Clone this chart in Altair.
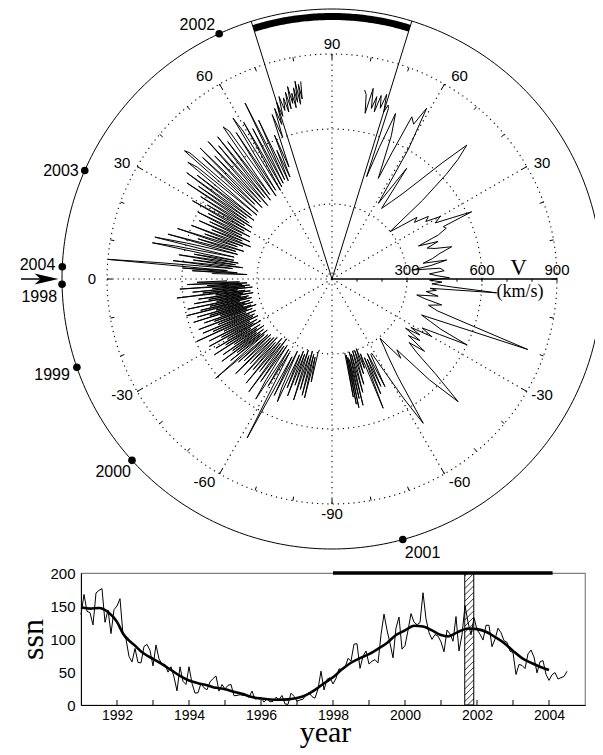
import altair as alt
import numpy as np
import pandas as pd

# ===================== DATA: polar (Ulysses) panel =====================
ORBIT_YEARS = ["1998", "1999", "2000", "2001", "2002", "2003", "2004"]
ORBIT_LAT = [-1.1, -19.1, -42.2, -74.8, 65.3, 23.7, 2.6]
ORBIT_SIDE = [-1, -1, -1, 1, -1, -1, -1]
WEDGE_LAT = [72.6, 72.8]          # polar pass boundaries (left, right)
SPEED_RINGS = [300, 600, 900]
SPEED_TICKS = [100, 200, 300, 400, 500, 600, 700, 800, 900]
SPEED_LABELS = [300, 600, 900]
LAT_GRID = [30, 60, -30, -60]

# segment A: 1998 -> late 2000, left side, southward
A_LAT = [-1.0, -1.4, -1.8, -2.2, -2.6, -3.0, -3.4, -3.8, -4.2, -4.6,
         -5.0, -5.4, -5.8, -6.2, -6.6, -7.0, -7.4, -7.8, -8.2, -8.6,
         -9.0, -9.4, -9.8, -10.2, -10.6, -11.0, -11.4, -11.8, -12.2, -12.6,
         -13.0, -13.4, -13.8, -14.2, -14.6, -15.0, -15.4, -15.8, -16.2, -16.6,
         -17.0, -17.4, -17.8, -18.2, -18.6, -19.0, -19.4, -19.8, -20.3, -20.8,
         -21.3, -21.8, -22.3, -22.8, -23.3, -23.8, -24.3, -24.8, -25.3, -25.8,
         -26.3, -26.8, -27.3, -27.8, -28.3, -28.8, -29.3, -29.8, -30.3, -30.8,
         -31.3, -31.8, -32.3, -32.8, -33.3, -33.8, -34.3, -34.8, -35.3, -35.8,
         -36.3, -36.8, -37.3, -37.8, -38.3, -38.8, -39.3, -40.0, -40.5, -41.0,
         -41.6, -42.2, -43.0, -43.8, -44.5, -45.2, -46.0, -46.8, -47.5, -48.2,
         -49.0, -49.8, -50.5, -51.2, -52.0, -52.8, -53.6, -54.4, -55.2, -56.0,
         -56.8, -57.6, -58.4, -59.2, -60.0, -61.9, -62.8, -63.6, -64.4, -65.2,
         -66.0, -66.8, -67.6, -68.4, -69.2, -70.0, -70.8, -71.6, -72.4, -73.2,
         -74.0, -74.8, -75.6, -76.4, -77.0, -77.8, -78.6, -79.3, -80.0]
A_V = [420, 540, 370, 580, 340, 500, 360, 610, 330, 480,
       350, 560, 320, 520, 380, 625, 350, 470, 330, 540,
       360, 500, 320, 560, 370, 470, 340, 590, 350, 500,
       330, 540, 380, 600, 340, 480, 360, 560, 330, 510,
       370, 580, 340, 470, 320, 540, 360, 500, 340, 570,
       370, 490, 330, 560, 360, 520, 340, 596, 350, 480,
       330, 550, 370, 500, 340, 560, 360, 480, 330, 540,
       380, 500, 340, 560, 360, 470, 330, 530, 370, 490,
       340, 550, 360, 480, 330, 520, 350, 470, 612, 340,
       500, 330, 480, 340, 540, 330, 470, 320, 520, 340,
       480, 310, 540, 330, 470, 300, 560, 330, 500, 320,
       480, 569, 330, 500, 340, 721, 350, 520, 320, 480,
       537, 330, 470, 310, 500, 320, 450, 300, 508, 320,
       460, 300, 480, 310, 488, 320, 420, 300, 288]

# segment B: fast latitude scan 2000.9 -> 2001.8, right side
B_LAT = [-80.2, -79.8, -79.4, -79.0, -78.6, -78.2, -77.8, -77.2, -76.6, -76.2,
         -75.5, -74.8, -74.0, -73.2, -72.4, -71.6, -70.8, -70.0, -69.2, -68.4,
         -67.6, -67.0, -66.2, -65.5, -64.6, -63.8, -62.8, -61.9, -60.5, -59.0,
         -57.7, -56.0, -54.0, -52.4, -51.0, -49.0, -47.5, -46.0, -44.2, -42.5,
         -41.0, -39.5, -38.0, -36.5, -35.0, -33.8, -32.5, -31.5, -30.0, -28.5,
         -27.3, -26.0, -24.8, -23.4, -21.9, -19.8, -18.2, -16.8, -15.2, -13.3,
         -12.0, -10.7, -9.2, -7.6, -6.2, -5.4, -4.8, -3.8, -2.8, -1.6,
         -0.6, 0.6, 1.8, 3.0, 4.2, 5.7, 6.4, 7.8, 9.4, 9.8,
         11.5, 13.2, 15.1, 16.5, 18.0, 19.5, 20.9, 22.5, 24.0, 25.2,
         25.7, 27.0, 28.5, 30.0, 31.5, 33.0, 34.5, 36.0, 37.5, 39.2,
         41.0, 42.5, 43.5, 44.8, 46.5, 48.5, 50.5, 52.5, 54.9, 56.0,
         57.3, 58.5, 59.5, 61.0, 62.2, 63.8, 64.6, 65.3, 67.5, 69.0,
         70.2, 71.3, 71.7, 72.1, 72.8, 73.5, 74.2, 75.0, 75.8, 76.2,
         77.0, 77.8, 78.7, 79.5, 80.2]
B_V = [300, 480, 310, 510, 320, 526, 330, 490, 300, 520,
       310, 470, 300, 440, 300, 400, 295, 380, 320, 556,
       340, 500, 350, 472, 330, 480, 340, 337, 420, 560,
       683, 470, 380, 340, 305, 420, 384, 560, 704, 560,
       450, 400, 470, 380, 430, 354, 417, 370, 460, 410,
       483, 600, 480, 430, 386, 832, 560, 440, 400, 451,
       380, 345, 430, 380, 420, 394, 661, 480, 400, 440,
       390, 470, 420, 390, 450, 434, 321, 400, 465, 370,
       410, 440, 496, 430, 400, 450, 370, 460, 500, 492,
       620, 540, 470, 500, 440, 460, 400, 420, 350, 299,
       480, 620, 694, 760, 640, 520, 440, 390, 345, 534,
       420, 355, 600, 781, 700, 723, 560, 443, 620, 709,
       560, 432, 719, 731, 700, 770, 710, 760, 690, 751,
       700, 780, 676, 750, 767]

# segment C: 2001.8 -> 2004, left side, descending from the north pole
C_LAT = [81.0, 80.6, 80.2, 79.8, 79.4, 79.0, 78.6, 78.2, 77.8, 77.4,
         77.0, 76.5, 76.0, 75.5, 75.0, 74.4, 73.8, 73.2, 72.6, 72.0,
         71.4, 70.8, 70.0, 69.0, 68.2, 67.6, 66.8, 66.0, 65.2, 64.5,
         63.7, 63.0, 62.2, 61.4, 60.6, 59.8, 59.0, 58.4, 57.6, 56.8,
         56.0, 55.2, 54.4, 53.6, 52.8, 52.0, 51.2, 50.4, 49.6, 48.8,
         48.0, 47.2, 46.4, 45.6, 44.8, 44.0, 43.2, 42.4, 41.6, 41.0,
         40.4, 39.7, 39.0, 38.3, 37.6, 36.9, 36.2, 35.5, 34.8, 34.1,
         33.5, 32.8, 32.1, 31.4, 30.7, 30.0, 29.3, 28.6, 27.9, 27.2,
         26.5, 25.8, 25.1, 24.4, 23.7, 23.0, 22.3, 21.6, 20.9, 20.2,
         19.5, 18.8, 18.1, 17.4, 16.7, 16.0, 15.3, 14.6, 13.9, 13.3,
         12.6, 11.9, 11.4, 10.8, 10.2, 9.6, 9.0, 8.4, 7.8, 7.2,
         6.6, 6.0, 5.4, 5.0, 4.6, 4.2, 3.8, 3.4, 3.0, 2.6]
C_V = [800, 730, 790, 710, 805, 720, 780, 700, 760, 720,
       790, 700, 770, 690, 750, 700, 760, 680, 740, 650,
       720, 600, 700, 480, 620, 441, 560, 430, 700, 440,
       785, 430, 680, 420, 720, 410, 690, 756, 420, 700,
       400, 720, 748, 420, 690, 400, 730, 420, 700, 390,
       740, 420, 680, 400, 744, 430, 710, 400, 760, 782,
       394, 700, 742, 410, 680, 390, 720, 420, 650, 400,
       696, 380, 620, 410, 580, 380, 640, 400, 560, 370,
       600, 400, 540, 360, 580, 390, 520, 350, 600, 380,
       540, 400, 650, 370, 560, 400, 680, 390, 600, 728,
       401, 640, 733, 400, 560, 380, 620, 390, 560, 360,
       640, 400, 700, 900, 420, 600, 380, 560, 340, 480]

# ===================== DATA: sunspot panel =====================
SSN_1991 = [136.9, 167.5, 141.9, 140.0, 121.3, 169.7, 173.7, 176.3, 125.3, 144.1, 108.2, 144.4]
SSN_1992 = [150.0, 161.1, 106.7, 99.8, 73.6, 65.2, 85.7, 64.5, 63.9, 88.7, 91.8, 82.6]
SSN_1993 = [59.3, 91.0, 69.8, 62.2, 61.3, 49.8, 57.9, 42.4, 21.4, 57.8, 35.8, 31.1]
SSN_1994 = [58.0, 32.9, 18.0, 18.5, 33.0, 26.0, 23.0, 35.0, 40.0, 44.0, 21.0, 31.0]
SSN_1995 = [24.2, 29.9, 31.1, 14.0, 14.5, 15.6, 14.5, 14.3, 11.8, 21.1, 9.0, 10.0]
SSN_1996 = [11.5, 4.4, 9.2, 4.8, 5.5, 11.8, 8.2, 14.4, 1.6, 0.9, 17.9, 13.3]
SSN_1997 = [5.7, 7.6, 8.7, 15.5, 18.5, 12.7, 10.4, 24.4, 51.3, 22.8, 39.0, 41.2]
SSN_1998 = [31.9, 40.3, 54.8, 53.4, 56.3, 70.7, 66.6, 92.2, 92.9, 55.5, 74.0, 81.9]
SSN_1999 = [62.0, 66.3, 68.8, 63.7, 106.4, 137.7, 113.5, 93.7, 71.5, 116.7, 133.2, 84.6]
SSN_2000 = [90.1, 112.9, 138.5, 125.5, 121.6, 124.9, 170.1, 130.5, 109.7, 99.4, 106.8, 104.4]
SSN_2001 = [95.6, 80.6, 113.5, 107.7, 96.6, 134.0, 81.8, 106.4, 150.7, 125.5, 106.5, 132.2]
SSN_2002 = [114.1, 107.4, 98.4, 120.7, 120.8, 88.3, 99.6, 116.4, 109.6, 97.5, 95.0, 81.6]
SSN_2003 = [79.5, 46.2, 61.5, 60.0, 55.2, 77.4, 83.3, 72.7, 48.7, 65.5, 67.3, 46.5]
SSN_2004 = [37.3, 45.8, 49.1, 39.3, 41.5, 43.2, 51.1]

SMOOTH_T = [1991.00, 1991.25, 1991.50, 1991.75, 1992.00, 1992.17, 1992.33, 1992.50, 1992.67, 1992.83,
            1993.00, 1993.25, 1993.50, 1993.75, 1994.00, 1994.25, 1994.50, 1994.75, 1995.00, 1995.25,
            1995.50, 1995.75, 1996.00, 1996.25, 1996.50, 1996.75, 1997.00, 1997.25, 1997.50, 1997.75,
            1998.00, 1998.25, 1998.50, 1998.75, 1999.00, 1999.25, 1999.50, 1999.75, 2000.00, 2000.25,
            2000.50, 2000.75, 2001.00, 2001.20, 2001.45, 2001.75, 2002.00, 2002.25, 2002.50, 2002.75,
            2003.00, 2003.25, 2003.50, 2003.75, 2004.00]
SMOOTH_V = [148, 146, 147, 141, 126, 108, 98, 90, 81, 75,
            70, 62, 53, 44, 37, 33, 30, 26, 24, 20,
            16.5, 12, 9.8, 8.4, 8.0, 8.5, 10.5, 15, 23, 33,
            42, 54, 64, 71, 77, 85, 94, 106, 113, 120,
            119, 113, 106, 104, 110, 116, 115, 111, 103, 94,
            82, 71, 64, 58, 53]

ORBIT_SPAN = [1998.0, 2004.1]
POLAR_PASS = [2001.66, 2001.91]
YEAR_TICKS = list(range(1992, 2005))
YEAR_LABELS = [1992, 1994, 1996, 1998, 2000, 2002, 2004]
SSN_LABELS = [0, 50, 100, 150, 200]

# ===================== styles / geometry constants =====================
OUTER_R = 1080
BAND_R = 1050
LABEL_R = 960
SANS = "Liberation Sans"
SERIF = "Liberation Serif"
YEAR_LABEL_STYLE = {
    "1998": ("right", -5, 13), "1999": ("right", -7, 8), "2000": ("right", -1, 12),
    "2001": ("left", 2, 13), "2002": ("right", -4, -9), "2003": ("right", -6, 1),
    "2004": ("right", -7, -2),
}

XS = alt.Scale(domain=[-1296, 1052], nice=False, zero=False)
YS = alt.Scale(domain=[-1144, 1084], nice=False, zero=False)


def PX(f):
    return alt.X(f + ":Q", scale=XS, axis=None)


def PY(f):
    return alt.Y(f + ":Q", scale=YS, axis=None)


def pol(side, lat, r):
    a = np.radians(lat)
    return side * r * np.cos(a), r * np.sin(a)


# ---- rings ----
ring_rows = []
for r in SPEED_RINGS:
    for k, th in enumerate(np.arange(0, 361, 2)):
        ring_rows.append({"ring": r, "k": k, "x": r * np.cos(np.radians(th)), "y": r * np.sin(np.radians(th))})
rings = alt.Chart(pd.DataFrame(ring_rows)).mark_line(
    color="black", strokeWidth=1.1, strokeDash=[1.2, 4], strokeJoin="round"
).encode(x=PX("x"), y=PY("y"), detail="ring:N", order="k:Q")

# ---- radial dotted lines ----
rad_rows = []
for side in (-1, 1):
    for lat in LAT_GRID:
        x1, y1 = pol(side, lat, 900)
        rad_rows.append({"x0": 0.0, "y0": 0.0, "x1": x1, "y1": y1})
for side, lat in ((-1, 0), (1, 90), (1, -90)):
    x1, y1 = pol(side, lat, 900)
    rad_rows.append({"x0": 0.0, "y0": 0.0, "x1": x1, "y1": y1})
radials = alt.Chart(pd.DataFrame(rad_rows)).mark_rule(
    color="black", strokeWidth=1.1, strokeDash=[1.2, 4]
).encode(x=PX("x0"), y=PY("y0"), x2="x1:Q", y2="y1:Q")

# ---- rim ticks on the 900 ring ----
tick_rows = []
for side in (-1, 1):
    for lat in range(-90, 91, 10):
        if side == 1 and abs(lat) == 90:
            continue
        inner = 878 if lat % 30 == 0 else 884
        xa, ya = pol(side, lat, inner)
        xb, yb = pol(side, lat, 900)
        tick_rows.append({"x0": xa, "y0": ya, "x1": xb, "y1": yb})
rim_ticks = alt.Chart(pd.DataFrame(tick_rows)).mark_rule(color="black", strokeWidth=1).encode(
    x=PX("x0"), y=PY("y0"), x2="x1:Q", y2="y1:Q")

# ---- speed axis ----
vaxis = alt.Chart(pd.DataFrame({"x0": [0.0], "x1": [900.0], "y0": [0.0]})).mark_rule(
    color="black", strokeWidth=1.3).encode(x=PX("x0"), x2="x1:Q", y=PY("y0"))
vticks = alt.Chart(pd.DataFrame({"v": SPEED_TICKS})).transform_calculate(
    y0="0", y1="-11").mark_rule(color="black", strokeWidth=1).encode(
    x=PX("v"), y=PY("y0"), y2="y1:Q")
vlabels = alt.Chart(pd.DataFrame({"v": SPEED_LABELS})).transform_calculate(
    y0="0").mark_text(font=SANS, fontSize=15, baseline="middle", align="center", dy=-9, color="black").encode(
    x=PX("v"), y=PY("y0"), text="v:N")
vsym = alt.Chart(pd.DataFrame({"x": [746.0], "y": [0.0], "t": ["V"]})).mark_text(
    font=SERIF, fontSize=23, baseline="alphabetic", align="center", dy=-4, color="black").encode(
    x=PX("x"), y=PY("y"), text="t:N")
vunit = alt.Chart(pd.DataFrame({"x": [752.0], "y": [0.0], "t": ["(km/s)"]})).mark_text(
    font=SERIF, fontSize=18, baseline="middle", align="center", dy=13, color="black").encode(
    x=PX("x"), y=PY("y"), text="t:N")

# ---- latitude labels ----
lab_rows = []
for side, lat in [(-1, 90), (-1, 60), (-1, 30), (-1, 0), (-1, -30), (-1, -60), (-1, -90),
                  (1, 60), (1, 30), (1, -30), (1, -60)]:
    r = 940 if abs(lat) == 90 else LABEL_R
    a = lat if abs(lat) == 90 else lat * 0.965
    x, y = pol(side, a, r)
    lab_rows.append({"x": x, "y": y, "t": str(lat)})
lat_labels = alt.Chart(pd.DataFrame(lab_rows)).mark_text(
    font=SANS, fontSize=15, baseline="middle", align="center", color="black").encode(
    x=PX("x"), y=PY("y"), text="t:N")

# ---- outer circle, wedge and polar band ----
outer_rows = [{"k": k, "x": OUTER_R * np.cos(np.radians(th)), "y": OUTER_R * np.sin(np.radians(th))}
              for k, th in enumerate(np.arange(0, 361, 1))]
outer = alt.Chart(pd.DataFrame(outer_rows)).mark_line(
    color="black", strokeWidth=1, clip=True, strokeJoin="round").encode(
    x=PX("x"), y=PY("y"), order="k:Q")

wedge_rows = []
for side, lat in ((-1, WEDGE_LAT[0]), (1, WEDGE_LAT[1])):
    x1, y1 = pol(side, lat, OUTER_R)
    wedge_rows.append({"x0": 0.0, "y0": 0.0, "x1": x1, "y1": y1})
wedge = alt.Chart(pd.DataFrame(wedge_rows)).mark_rule(color="black", strokeWidth=1).encode(
    x=PX("x0"), y=PY("y0"), x2="x1:Q", y2="y1:Q")

band_th = np.linspace(WEDGE_LAT[1], 180 - WEDGE_LAT[0], 70)
band_rows = [{"k": k, "x": BAND_R * np.cos(np.radians(th)), "y": BAND_R * np.sin(np.radians(th))}
             for k, th in enumerate(band_th)]
band = alt.Chart(pd.DataFrame(band_rows)).mark_line(
    color="black", strokeWidth=7, strokeCap="butt", strokeJoin="round").encode(
    x=PX("x"), y=PY("y"), order="k:Q")

# ---- solar wind traces ----
assert len(A_LAT) == len(A_V) and len(B_LAT) == len(B_V) and len(C_LAT) == len(C_V)
trace_df = pd.concat([
    pd.DataFrame({"seg": "A", "i": range(len(A_LAT)), "lat": A_LAT, "v": A_V, "side": -1}),
    pd.DataFrame({"seg": "B", "i": range(len(B_LAT)), "lat": B_LAT, "v": B_V, "side": 1}),
    pd.DataFrame({"seg": "C", "i": range(len(C_LAT)), "lat": C_LAT, "v": C_V, "side": -1}),
], ignore_index=True)
traces = alt.Chart(trace_df).transform_calculate(
    x="datum.side*datum.v*cos(datum.lat*PI/180)",
    y="datum.v*sin(datum.lat*PI/180)",
).mark_line(color="black", strokeWidth=1.0, strokeJoin="round").encode(
    x=PX("x"), y=PY("y"), detail="seg:N", order="i:Q")

# ---- orbit year markers ----
orbit_df = pd.DataFrame({"year": ORBIT_YEARS, "lat": ORBIT_LAT, "side": ORBIT_SIDE})
to_xy = dict(x=f"datum.side*{OUTER_R}*cos(datum.lat*PI/180)", y=f"{OUTER_R}*sin(datum.lat*PI/180)")
dots = alt.Chart(orbit_df).transform_calculate(**to_xy).mark_circle(
    size=58, color="black", opacity=1).encode(x=PX("x"), y=PY("y"))
year_texts = []
for yr, (al, ddx, ddy) in YEAR_LABEL_STYLE.items():
    year_texts.append(
        alt.Chart(orbit_df).transform_filter(alt.datum.year == yr).transform_calculate(**to_xy)
        .mark_text(font=SANS, fontSize=16, align=al, baseline="middle", dx=ddx, dy=ddy, color="black")
        .encode(x=PX("x"), y=PY("y"), text="year:N")
    )

# ---- arrow at left (ecliptic) ----
arrow_shaft = alt.Chart(pd.DataFrame({"x0": [-1244.0], "x1": [-1150.0], "y0": [0.0]})).mark_rule(
    color="black", strokeWidth=1.5).encode(x=PX("x0"), x2="x1:Q", y=PY("y0"))
arrow_head = alt.Chart(pd.DataFrame({"x": [-1142.0], "y": [0.0]})).mark_point(
    shape="M 1 0 L -1 -0.45 L -0.5 0 L -1 0.45 Z", filled=True, size=576, color="black",
    opacity=1, strokeWidth=0).encode(x=PX("x"), y=PY("y"))

polar = alt.layer(
    rings, radials, rim_ticks, outer, wedge, band, vaxis, vticks, traces,
    vlabels, vsym, vunit, lat_labels, dots, *year_texts, arrow_shaft, arrow_head
).properties(width=587, height=557)

# ===================== sunspot chart =====================
ssn_all = (SSN_1991 + SSN_1992 + SSN_1993 + SSN_1994 + SSN_1995 + SSN_1996 + SSN_1997 +
           SSN_1998 + SSN_1999 + SSN_2000 + SSN_2001 + SSN_2002 + SSN_2003 + SSN_2004)
month_t = [1991 + k / 12 for k in range(len(ssn_all))]
monthly_df = pd.DataFrame({"t": month_t, "v": ssn_all})
smooth_df = pd.DataFrame({"t": SMOOTH_T, "v": SMOOTH_V})

TXS = alt.Scale(domain=[1991, 2005], nice=False, zero=False)
TYS = alt.Scale(domain=[0, 200], nice=False)
XAX = alt.Axis(values=YEAR_LABELS, format="d", ticks=False, tickSize=0, labelPadding=3,
               labelFontSize=14, labelFont=SANS, labelColor="black", labelFlush=False,
               domainColor="black", domainWidth=1, grid=False, title="year", titleFont=SERIF,
               titleFontSize=30, titleFontWeight="normal", titleColor="black",
               titleBaseline="alphabetic", titleY=36, titleX=244)
YAX = alt.Axis(values=SSN_LABELS, ticks=False, tickSize=0, labelPadding=6, labelFontSize=15,
               labelFont=SANS, labelColor="black", labelFlush=False, domainColor="black", domainWidth=1,
               grid=False, title="ssn", titleFont=SERIF, titleFontSize=32, titleFontWeight="normal",
               titleColor="black", titleBaseline="alphabetic", titleX=-39, titleY=66)


def TX(f):
    return alt.X(f + ":Q", scale=TXS, axis=XAX)


def TY(f):
    return alt.Y(f + ":Q", scale=TYS, axis=YAX)


t0, t1 = POLAR_PASS
rise = 13.7
hatch_rows = []
for ys in np.arange(-rise, 200, 9.5):
    xa, ya, xb, yb = t0, ys, t1, ys + rise
    if ya < 0:
        xa = t0 + (t1 - t0) * (-ys / rise)
        ya = 0.0
    if yb > 200:
        xb = t0 + (t1 - t0) * ((200 - ys) / rise)
        yb = 200.0
    hatch_rows.append({"x0": xa, "y0": ya, "x1": xb, "y1": yb})
hatch = alt.Chart(pd.DataFrame(hatch_rows)).mark_rule(color="black", strokeWidth=0.8).encode(
    x=TX("x0"), y=TY("y0"), x2="x1:Q", y2="y1:Q")
pass_rect = alt.Chart(pd.DataFrame({"x0": [t0], "x1": [t1], "y0": [0.0], "y1": [200.0]})).mark_rect(
    fill="white", fillOpacity=0, stroke="black", strokeWidth=1).encode(
    x=TX("x0"), x2="x1:Q", y=TY("y0"), y2="y1:Q")
monthly = alt.Chart(monthly_df).mark_line(color="black", strokeWidth=1, strokeJoin="round").encode(
    x=TX("t"), y=TY("v"))
smooth = alt.Chart(smooth_df).mark_line(
    color="black", strokeWidth=2.6, interpolate="monotone", strokeJoin="round").encode(
    x=TX("t"), y=TY("v"))
yticks = alt.Chart(pd.DataFrame({"t": YEAR_TICKS})).transform_calculate(y0="0", y1="7.6").mark_rule(
    color="black", strokeWidth=1).encode(x=TX("t"), y=TY("y0"), y2="y1:Q")
orbit_bar = alt.Chart(pd.DataFrame({"x0": [ORBIT_SPAN[0]], "x1": [ORBIT_SPAN[1]], "y0": [200.0]})).mark_rule(
    color="black", strokeWidth=3.6).encode(x=TX("x0"), x2="x1:Q", y=TY("y0"))

ts = alt.layer(pass_rect, hatch, monthly, smooth, yticks, orbit_bar).properties(
    width=504, height=132, view=alt.ViewBackground(stroke="#808080", strokeWidth=1.2))

spacer = alt.Chart(pd.DataFrame({"a": [0]})).mark_point(opacity=0).encode(
    x=alt.X("a:Q", axis=None), y=alt.Y("a:Q", axis=None)).properties(width=73, height=132)

bottom = alt.hconcat(spacer, ts, spacing=0, bounds="flush")

chart = alt.vconcat(polar, bottom, spacing=8, bounds="flush").properties(
    padding=0, background="white").configure_view(stroke=None)

chart.save("out.html", embed_options={"renderer": "svg", "actions": False})
